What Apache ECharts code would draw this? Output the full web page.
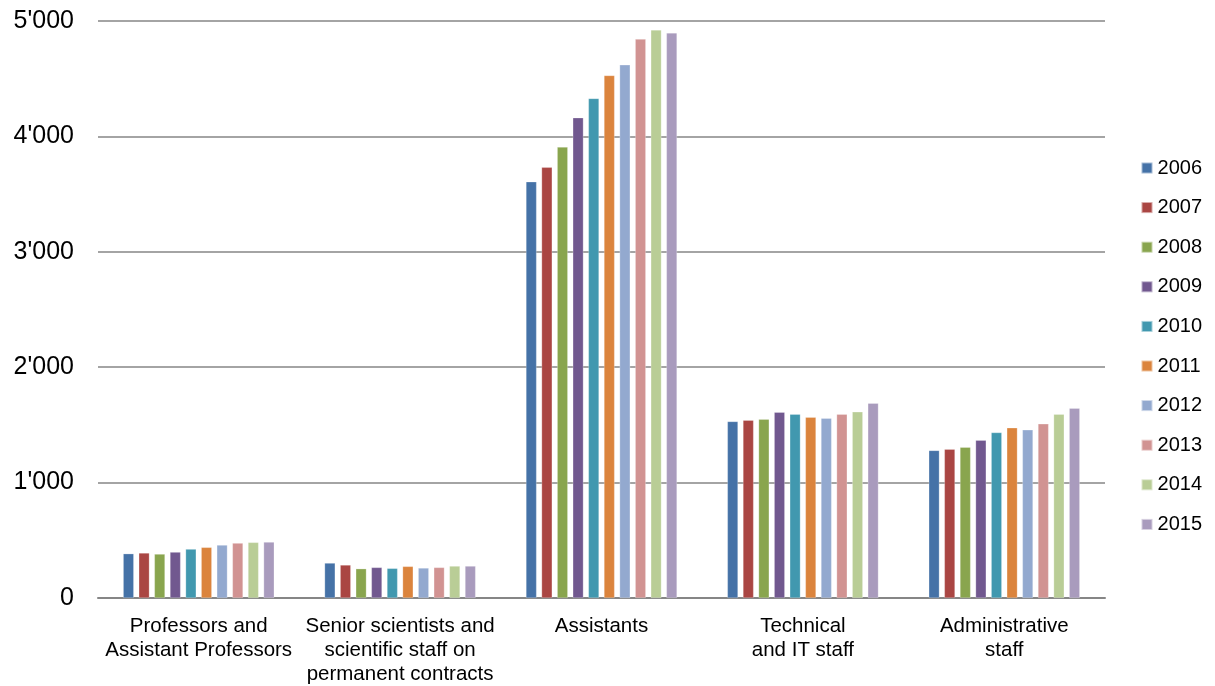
<!DOCTYPE html>
<html><head><meta charset="utf-8">
<script src="https://cdn.jsdelivr.net/npm/echarts@6/dist/echarts.min.js"></script>
<style>html,body{margin:0;padding:0;background:#fff}#c{width:1215px;height:686px}</style>
</head><body><div id="c"></div>
<script>
const categories = ["Professors and\nAssistant Professors", "Senior scientists and\nscientific staff on\npermanent contracts", "Assistants", "Technical\nand IT staff", "Administrative\nstaff"];
const years = ["2006","2007","2008","2009","2010","2011","2012","2013","2014","2015"];
const v2006 = [384, 303, 3607, 1530, 1279];
const v2007 = [390, 286, 3732, 1541, 1290];
const v2008 = [381, 254, 3908, 1550, 1307];
const v2009 = [398, 265, 4162, 1610, 1368];
const v2010 = [424, 257, 4329, 1593, 1434];
const v2011 = [439, 274, 4528, 1567, 1475];
const v2012 = [459, 260, 4620, 1558, 1457];
const v2013 = [476, 265, 4843, 1593, 1509];
const v2014 = [482, 277, 4923, 1613, 1593];
const v2015 = [485, 277, 4897, 1688, 1645];
const yTicks = [0, 1000, 2000, 3000, 4000, 5000];
const colors = ["#4572A7","#AA4643","#89A54E","#71588F","#4198AF","#DB843D","#93A9CF","#D19392","#B9CD96","#A99BBD"];
const values = [v2006,v2007,v2008,v2009,v2010,v2011,v2012,v2013,v2014,v2015];

const chart = echarts.init(document.getElementById('c'));
chart.setOption({
  animation: false,
  color: colors,
  grid: {left: 98, right: 110, top: 21, bottom: 88, containLabel: false},
  legend: {
    orient: 'vertical', right: 8, top: 153,
    itemWidth: 11, itemHeight: 11, itemGap: 19.6,
    icon: 'rect',
    textStyle: {fontFamily: 'Liberation Sans, Arial', fontSize: 20, lineHeight: 20, color: '#000'},
    data: years
  },
  xAxis: {
    type: 'category', data: categories,
    axisLine: {lineStyle: {color: '#868686', width: 2}},
    axisTick: {show: false},
    axisLabel: {fontFamily: 'Liberation Sans, Arial', fontSize: 20.5, color: '#000', lineHeight: 24, margin: 16, interval: 0}
  },
  yAxis: {
    type: 'value', min: yTicks[0], max: yTicks[yTicks.length-1], interval: 1000,
    axisLine: {show: false}, axisTick: {show: false},
    splitLine: {lineStyle: {color: '#868686', width: 1.5}},
    axisLabel: {fontFamily: 'Liberation Sans, Arial', fontSize: 25, color: '#000', margin: 24,
      formatter: v => v === 0 ? '0' : (Math.floor(v/1000) + "'" + String(v%1000).padStart(3,'0'))}
  },
  series: years.map((y, i) => ({
    name: y, type: 'bar', data: values[i],
    barGap: '47%', barCategoryGap: '25%',
    itemStyle: {borderColor: 'rgba(255,255,255,0.5)', borderWidth: 0.5}
  }))
});
</script></body></html>
